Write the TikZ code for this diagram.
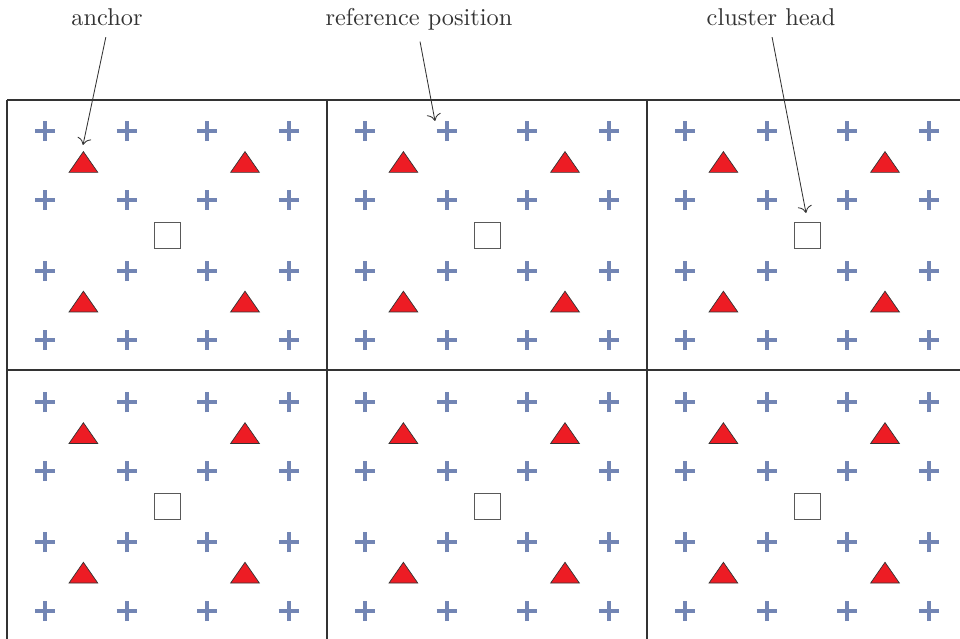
\documentclass[tikz,border=0pt]{standalone}
\usepackage{xcolor}
\usetikzlibrary{arrows.meta}

\definecolor{crossblue}{RGB}{114,133,180}
\definecolor{anchorred}{RGB}{237,28,36}

\tikzset{
  cross/.style={draw=crossblue, line width=0.1cm},
  anchormark/.style={draw=black!80, fill=anchorred, line width=0.5pt},
  headmark/.style={draw=black!65, fill=white, line width=0.6pt},
  cellline/.style={draw=black!80, line width=0.75pt},
  lbl/.style={font=\fontsize{10}{12}\selectfont, text=black!80, inner sep=2pt, scale=1.73, transform shape},
  pointer/.style={draw=black!80, line width=0.6pt, shorten <=4pt, -{To[length=5pt,width=10pt]}},
}

\begin{document}
\begin{tikzpicture}
      % \draw[help lines, gray!50, very thin] (0,0) grid (24,16);
      \useasboundingbox (0,0) rectangle (24,15.975);

      % cells
      \draw[cellline] (0.175,13.475) -- (24,13.475);
      \draw[cellline] (0.175,6.725) -- (24,6.725);
      \foreach \gx in {0.175,8.175,16.175}
        \draw[cellline] (\gx,0) -- (\gx,13.475);

      % reference positions, anchors and cluster head of each cell
      \foreach \cx in {0,1,2} {
        \foreach \cy in {0,1} {
          \begin{scope}[shift={(4.175+8*\cx, 3.3075+6.7775*\cy)}]
            \foreach \px in {-3.04,-1.01,1.01,3.04}
              \foreach \py in {-2.61,-0.89,0.89,2.61}
                \draw[cross] (\px-0.25,\py) -- ++(0.5,0) (\px,\py-0.25) -- ++(0,0.5);
            \foreach \ax/\ay in {-2.09/1.84, 1.95/1.84, -2.09/-1.65, 1.95/-1.65}
              \draw[anchormark] (\ax-0.36,\ay-0.26) -- (\ax,\ay+0.26) -- (\ax+0.36,\ay-0.26) -- cycle;
            \draw[headmark] (-0.325,-0.325) rectangle (0.325,0.325);
          \end{scope}
        }
      }

      % labels
      \node[lbl, anchor=base] (anchorlbl) at (2.675,15.325) {anchor};
      \node[lbl, anchor=base] (reflbl) at (10.475,15.325) {reference position};
      \node[lbl, anchor=base] (headlbl) at (19.275,15.325) {cluster head};

      \coordinate (anchortip) at (2.075,12.35);
      \coordinate (reftip) at (10.875,12.95);
      \coordinate (headtip) at (20.15,10.65);

      \draw[pointer] (anchorlbl.south) -- (anchortip);
      \draw[pointer] (reflbl.south) -- (reftip);
      \draw[pointer] (headlbl.south) -- (headtip);
    \end{tikzpicture}
\end{document}
